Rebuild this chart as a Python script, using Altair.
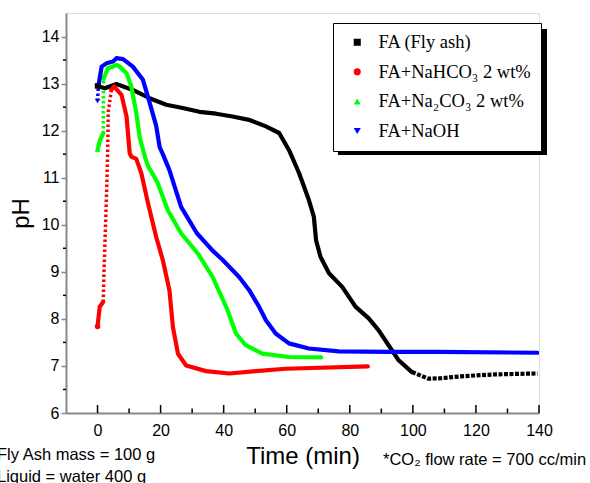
import altair as alt
import pandas as pd

# ---------------- data ----------------
SERIES = ["FA (Fly ash)", "FA+NaHCO₃ 2 wt%", "FA+Na₂CO₃ 2 wt%", "FA+NaOH"]
COLORS = ["#000000", "#ff0000", "#00ff00", "#0000ff"]
SHAPES = ["square", "circle", "triangle-up", "triangle-down"]

# FA (fly ash)
fa_t = [0, 2.3, 6, 11, 16.5, 21.8, 27, 32.3, 37.6, 42.8, 48, 53.4, 57.6, 60.7,
        63.9, 67, 68.6, 69.3, 70.7, 73.4, 77.6, 81.8, 86, 89.1, 92.3, 95.5, 99.7]
fa_ph = [12.95, 12.9, 12.99, 12.87, 12.69, 12.55, 12.48, 12.40, 12.36, 12.30, 12.23,
         12.09, 11.95, 11.59, 11.10, 10.53, 10.17, 9.67, 9.32, 8.97, 8.68, 8.26,
         8.01, 7.76, 7.44, 7.12, 6.87]
fa_tail_t = [99.7, 104.9, 109.1, 115.4, 126, 139.5]
fa_tail_ph = [6.87, 6.73, 6.74, 6.78, 6.82, 6.84]

# FA + NaHCO3
bic_lead_t = [0, 0.7, 1.8]
bic_lead_ph = [7.84, 8.26, 8.36]
bic_dot_t = [1.8, 2.0, 2.9, 3.2, 3.4, 4.4]
bic_dot_ph = [8.36, 8.9, 10.74, 11.5, 12.4, 12.87]
bic_t = [4.4, 5.2, 7.6, 9.2, 10.2, 10.7, 12.3, 13.9, 16, 18.6, 20.7, 22.8, 23.9,
         25.5, 28.1, 34.4, 41.8, 50.2, 59.7, 85.7]
bic_ph = [12.87, 12.94, 12.76, 12.3, 11.52, 11.45, 11.4, 11.09, 10.46, 9.74, 9.25,
          8.61, 7.83, 7.26, 7.01, 6.89, 6.84, 6.89, 6.94, 6.99]

# FA + Na2CO3
car_lead_t = [0, 0.8, 1.8]
car_lead_ph = [11.59, 11.8, 11.94]
car_dot_t = [1.8, 1.85, 1.9]
car_dot_ph = [11.94, 12.5, 13.1]
car_t = [1.9, 3.3, 4.9, 6.0, 7.0, 9.2, 10.7, 12.3, 13.4, 14.4, 15.3, 16.2, 17.5,
         19.1, 22.3, 26.5, 31.8, 36.5, 41.2, 43.9, 47.0, 52.3, 60.7, 70.9]
car_ph = [13.1, 13.33, 13.36, 13.4, 13.36, 13.22, 12.94, 12.37, 11.85, 11.6, 11.38,
          11.22, 11.08, 10.88, 10.31, 9.82, 9.39, 8.89, 8.19, 7.69, 7.44, 7.26, 7.19, 7.18]

# FA + NaOH
oh_dot_t = [0, 0.2, 0.4]
oh_dot_ph = [12.63, 12.87, 13.0]
oh_t = [0.4, 1.3, 2.8, 4.9, 6.0, 8.1, 11.2, 14.4, 16.5, 18.6, 19.7, 20.7, 22.8, 26.5,
        31.5, 36.5, 39.7, 44.9, 48.1, 51.2, 53.4, 56.5, 60.7, 67.0, 76.5, 92.3, 108, 139.5]
oh_ph = [13.0, 13.36, 13.43, 13.47, 13.54, 13.52, 13.36, 13.08, 12.6, 12.1, 11.65, 11.5,
         11.16, 10.38, 9.82, 9.45, 9.25, 8.89, 8.61, 8.26, 7.97, 7.69, 7.48, 7.37, 7.31,
         7.30, 7.30, 7.28]

X_MAJOR = [0, 20, 40, 60, 80, 100, 120, 140]
X_MINOR = [10, 30, 50, 70, 90, 110, 130]
Y_MAJOR = [6, 7, 8, 9, 10, 11, 12, 13, 14]
Y_MINOR = [6.5, 7.5, 8.5, 9.5, 10.5, 11.5, 12.5, 13.5]

NOTE_MASS = "Fly Ash mass = 100 g"
NOTE_LIQ = "Liquid = water 400 g"
NOTE_CO2 = "*CO₂ flow rate = 700 cc/min"

# ---------------- build tables ----------------
rows = []
def add(series, style, seg, ts, phs):
    for i, (t, p) in enumerate(zip(ts, phs)):
        rows.append({"series": series, "style": style, "seg": seg, "i": i, "t": t, "ph": p})

add(SERIES[0], "solid", "fa_main", fa_t, fa_ph)
add(SERIES[0], "dash", "fa_tail", fa_tail_t, fa_tail_ph)
add(SERIES[1], "solid", "bic_lead", bic_lead_t, bic_lead_ph)
add(SERIES[1], "dot", "bic_dot", bic_dot_t, bic_dot_ph)
add(SERIES[1], "solid", "bic_main", bic_t, bic_ph)
add(SERIES[2], "solid", "car_lead", car_lead_t, car_lead_ph)
add(SERIES[2], "dot", "car_dot", car_dot_t, car_dot_ph)
add(SERIES[2], "solid", "car_main", car_t, car_ph)
add(SERIES[3], "dot", "oh_dot", oh_dot_t, oh_dot_ph)
add(SERIES[3], "solid", "oh_main", oh_t, oh_ph)
df = pd.DataFrame(rows)

starts = pd.DataFrame({
    "series": SERIES,
    "t": [fa_t[0], bic_lead_t[0], car_lead_t[0], oh_dot_t[0]],
    "ph": [fa_ph[0], bic_lead_ph[0], car_lead_ph[0], oh_dot_ph[0]],
})

W, H = 473, 400
xscale = alt.Scale(domain=[-10, 140], nice=False, zero=False)
yscale = alt.Scale(domain=[6, 14.5], nice=False, zero=False)
cscale = alt.Scale(domain=SERIES, range=COLORS)
sscale = alt.Scale(domain=SERIES, range=SHAPES)

x_axis = alt.Axis(values=X_MAJOR, ticks=False, grid=False, title="Time (min)",
                  labelFontSize=16, labelPadding=9, titleFontSize=24,
                  titleFontWeight="normal", titlePadding=6, domainWidth=2,
                  labelFlush=False)
y_axis = alt.Axis(values=Y_MAJOR, tickSize=5, tickWidth=1.5, grid=False,
                  title="pH", labelFontSize=16, labelPadding=2,
                  titleFontSize=24, titleFontWeight="normal", titlePadding=8,
                  domainWidth=2, labelFlush=False)

def X(field="t"):
    return alt.X(f"{field}:Q", scale=xscale, axis=x_axis)

def Y(field="ph"):
    return alt.Y(f"{field}:Q", scale=yscale, axis=y_axis)

STYLE_MARK = {
    "solid": dict(strokeWidth=4.2, strokeCap="round", strokeJoin="round"),
    "dot": dict(strokeWidth=3.5, strokeDash=[2.5, 2.5]),
    "dash": dict(strokeWidth=4.2, strokeDash=[4, 1.5]),
}

line_layers = []
for style in ["dot", "dash", "solid"]:
    for s, c in zip(SERIES, COLORS):
        sub = df[(df["series"] == s) & (df["style"] == style)]
        if len(sub) == 0:
            continue
        line_layers.append(
            alt.Chart(sub).mark_line(color=c, clip=True, **STYLE_MARK[style]).encode(
                x=X(), y=Y(), detail="seg:N", order="i:Q")
        )

legend_def = alt.Legend(
    title=None, orient="none", legendX=267, legendY=10,
    fillColor="white", strokeColor="black", padding=10,
    labelFont="Liberation Serif", labelFontSize=18.5, labelColor="black",
    symbolSize=50, symbolOffset=5, labelOffset=12, rowPadding=10.6,
    symbolStrokeWidth=0)

pts = alt.Chart(starts).mark_point(filled=True, size=30, opacity=1).encode(
    x=X(), y=Y(),
    color=alt.Color("series:N", scale=cscale, legend=legend_def),
    shape=alt.Shape("series:N", scale=sscale, legend=legend_def),
)

one = pd.DataFrame({"k": [0]})
shadow = alt.Chart(one).mark_rect(color="black").encode(
    x=alt.value(272), x2=alt.value(481), y=alt.value(16), y2=alt.value(142))

xmaj = alt.Chart(pd.DataFrame({"t": X_MAJOR})).mark_rule(color="black", strokeWidth=1.5).encode(
    x=X(), y=alt.value(H), y2=alt.value(H - 8))
xmin = alt.Chart(pd.DataFrame({"t": X_MINOR})).mark_rule(color="black", strokeWidth=1.5).encode(
    x=X(), y=alt.value(H), y2=alt.value(H - 4.5))
ymin = alt.Chart(pd.DataFrame({"ph": Y_MINOR})).mark_rule(color="black", strokeWidth=1.5).encode(
    y=Y(), x=alt.value(0), x2=alt.value(-3))

def note(txt, x, y):
    return alt.Chart(pd.DataFrame({"note": [txt]})).mark_text(
        align="left", baseline="middle", font="Liberation Sans", fontSize=16.5,
        color="black").encode(text="note:N", x=alt.value(x), y=alt.value(y))

chart = alt.layer(
    shadow, *line_layers, pts, xmaj, xmin, ymin,
    note(NOTE_MASS, -69, 442), note(NOTE_LIQ, -69, 464), note(NOTE_CO2, 317, 447),
).properties(
    width=W, height=H,
    autosize=alt.AutoSizeParams(type="none"),
    padding={"left": 66, "top": 13, "right": 51, "bottom": 70},
).configure_view(
    stroke="black", strokeWidth=2
).configure_axis(
    labelFont="Liberation Sans", titleFont="Liberation Sans", labelColor="black",
    titleColor="black", titleFontWeight="normal", domainColor="black", tickColor="black"
).configure_legend(
    strokeWidth=1, cornerRadius=0
).configure(background="white")

chart.save("out.html", embed_options={"renderer": "svg", "actions": False})
